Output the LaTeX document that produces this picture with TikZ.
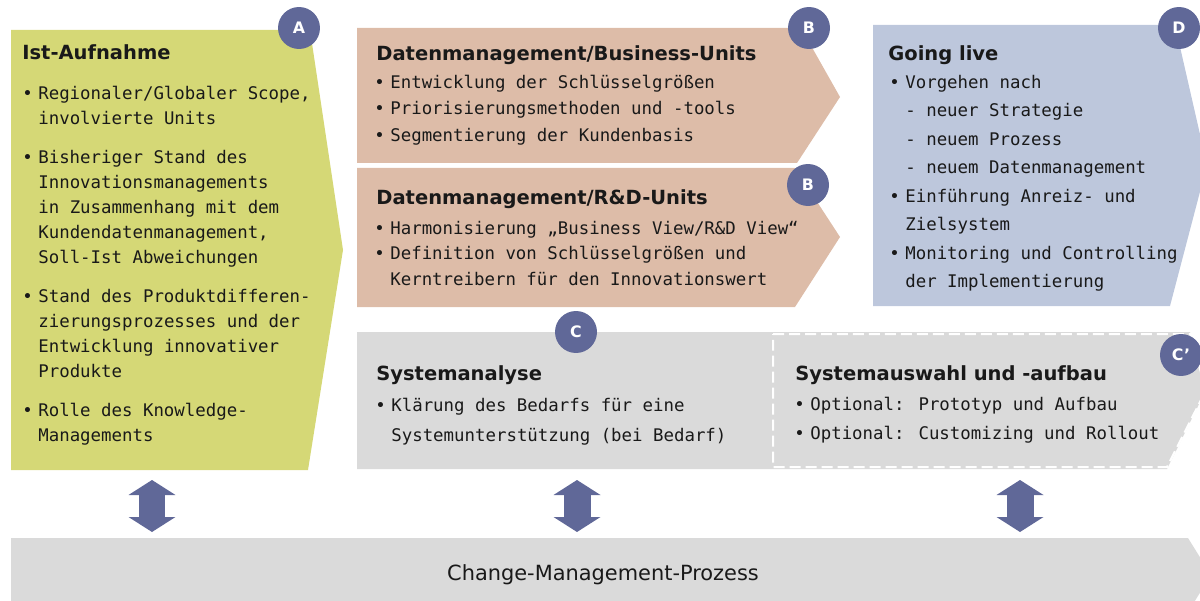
\documentclass[tikz,border=0pt]{standalone}
\usepackage{fontspec}
\setmainfont{DejaVu Sans}
\newfontfamily\bodyfont{DejaVu Sans Mono}
\usetikzlibrary{arrows.meta,positioning}

\definecolor{aufnahme}{RGB}{213,216,118}
\definecolor{daten}{RGB}{221,188,168}
\definecolor{live}{RGB}{189,199,220}
\definecolor{system}{RGB}{218,218,218}
\definecolor{badge}{RGB}{96,104,152}
\definecolor{ink}{RGB}{25,25,25}

\newcommand\bul{\makebox[0.32cm][l]{•}}
\newcommand\ind{\hspace*{0.32cm}}
\newcommand\topline{\rule{0pt}{0.3cm}}

\tikzset{
  head/.style={anchor=base west,inner sep=0pt,text=ink,font=\fontsize{11.1}{13}\selectfont\bfseries},
  body/.style={anchor=north west,inner sep=0pt,text=ink,align=left,font=\bodyfont\fontsize{9.9}{#1}\selectfont},
  body/.default=14.2pt,
  badge/.style={circle,fill=badge,minimum size=0.84cm,inner sep=0pt,text=white,font=\fontsize{9}{10}\selectfont\bfseries},
  updown/.style={draw=badge,line width=0.54cm,
    {Triangle[width=0.94cm,length=0.3cm,line width=0pt]}-{Triangle[width=0.94cm,length=0.3cm,line width=0pt]}}
}

\begin{document}
\begin{tikzpicture}[x=0.02cm,y=-0.02cm]
\useasboundingbox (0,0) rectangle (1200,601);
\clip (0,0) rectangle (1200,601);

\fill[aufnahme] (11,30) -- (310,30) -- (343,250) -- (308,470) -- (11,470) -- cycle;
\fill[daten] (357,28) -- (801,28) -- (840,97) -- (797,163) -- (357,163) -- cycle;
\fill[daten] (357,168) -- (795,168) -- (840,237) -- (795,307) -- (357,307) -- cycle;
\fill[live] (873,25) -- (1175,25) -- (1207,165) -- (1170,306) -- (873,306) -- cycle;
\fill[system] (357,332) -- (1190,332) -- (1206,390) -- (1167,469) -- (357,469) -- cycle;
\draw[white,line width=0.04cm,dash pattern=on 0.22cm off 0.1cm] (773,334) -- (1190,334) -- (1206,390) -- (1167,467) -- (773,467) -- cycle;
\fill[system] (11,538) -- (1188,538) -- (1211,575) -- (1188,612) -- (11,612) -- cycle;

\node[head] (hA) at (22,60) {Ist-Aufnahme};
\node[body] (tA) at (22,84) {\topline\bul Regionaler/Globaler Scope,\\\ind involvierte Units\\[0.28cm]
  \bul Bisheriger Stand des\\\ind Innovationsmanagements\\\ind in Zusammenhang mit dem\\\ind Kundendatenmanagement,\\\ind Soll-Ist Abweichungen\\[0.3cm]
  \bul Stand des Produktdifferen-\\\ind zierungsprozesses und der\\\ind Entwicklung innovativer\\\ind Produkte\\[0.28cm]
  \bul Rolle des Knowledge-\\\ind Managements};

\node[head] (hB) at (376,61) {Datenmanagement/Business-Units};
\node[body=15.1pt] (tB) at (374,73) {\topline\bul Entwicklung der Schlüsselgrößen\\\bul Priorisierungsmethoden und -tools\\\bul Segmentierung der Kundenbasis};

\node[head] (hR) at (376,205) {Datenmanagement/R\&D-Units};
\node[body=14.5pt] (tR) at (374,219) {\topline\bul Harmonisierung „Business View/R\&D View“\\\bul Definition von Schlüsselgrößen und\\\ind Kerntreibern für den Innovationswert};

\node[head] (hD) at (888,61) {Going live};
\node[body=16.2pt] (tD) at (889,73) {\topline\bul Vorgehen nach\\\ind - neuer Strategie\\\ind - neuem Prozess\\\ind - neuem Datenmanagement\\\bul Einführung Anreiz- und\\\ind Zielsystem\\\bul Monitoring und Controlling\\\ind der Implementierung};

\node[head] (hC) at (376,380) {Systemanalyse};
\node[body=17.1pt] (tC) at (375,396) {\topline\bul Klärung des Bedarfs für eine\\\ind Systemunterstützung (bei Bedarf)};

\node[head] (hS) at (795,380) {Systemauswahl und -aufbau};
\node[body=16.5pt] (tS) at (794,395) {\topline\bul Optional: Prototyp und Aufbau\\\bul Optional: Customizing und Rollout};

\node[text=ink,font=\fontsize{11.9}{14}\selectfont] (cm) at (603,575) {Change-Management-Prozess};

\node[badge] (A) at (299,28) {A};
\node[badge] (B) at (809,28) {B};
\node[badge] (B2) at (808,185) {B};
\node[badge] (D) at (1179,28) {D};
\node[badge] (C) at (576,332) {C};
\node[badge] (C2) at (1181,355) {C’};

\coordinate (u1) at (152,480);
\coordinate (d1) at (152,532);
\coordinate (u2) at (577,480);
\coordinate (d2) at (577,532);
\coordinate (u3) at (1020,480);
\coordinate (d3) at (1020,532);
\draw[updown] (u1) -- (d1);
\draw[updown] (u2) -- (d2);
\draw[updown] (u3) -- (d3);
\end{tikzpicture}
\end{document}
